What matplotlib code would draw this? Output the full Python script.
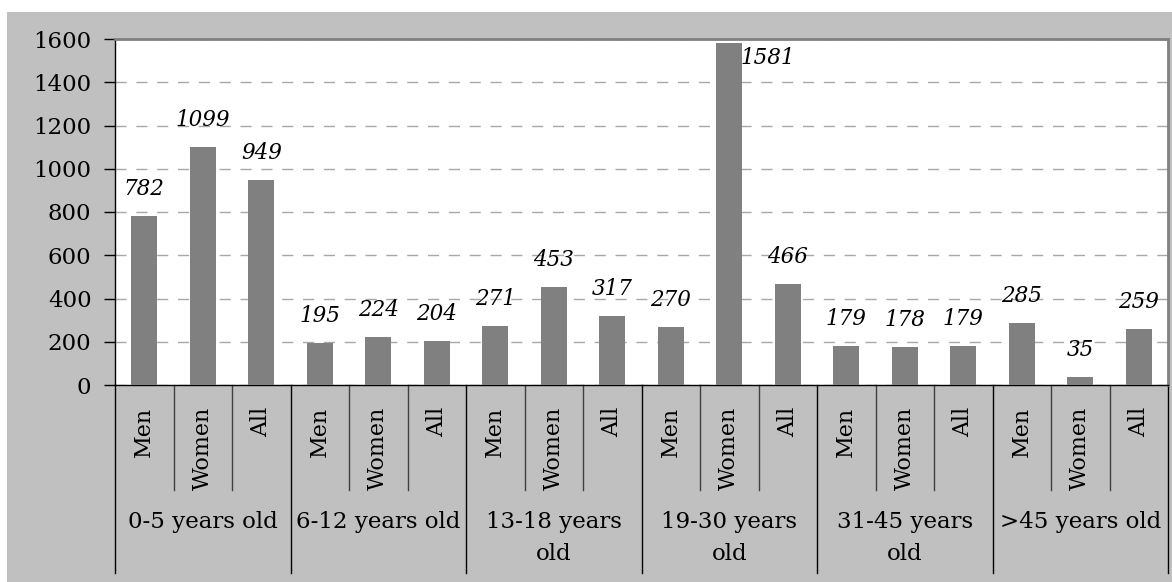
import matplotlib.pyplot as plt
from matplotlib.patches import Rectangle
from matplotlib.transforms import blended_transform_factory

plt.rcParams['font.family'] = ['DejaVu Serif']

groups = ['0-5 years old', '6-12 years old', '13-18 years\nold',
          '19-30 years\nold', '31-45 years\nold', '>45 years old']
subgroups = ['Men', 'Women', 'All']
men = [782, 195, 271, 270, 179, 285]
women = [1099, 224, 453, 1581, 178, 35]
both = [949, 204, 317, 466, 179, 259]

values = []
for m, w, a in zip(men, women, both):
    values += [m, w, a]
x = list(range(len(values)))

fig = plt.figure(figsize=(11.72, 5.82), dpi=100)
fig.patch.set_facecolor('white')
fig.patches.append(Rectangle((7 / 1172, 0), 1, 570 / 582, transform=fig.transFigure,
                             facecolor='#c0c0c0', edgecolor='none', zorder=-10))

ax = fig.add_axes([115 / 1172, 197 / 582, 1053 / 1172, 346 / 582])
ax.set_facecolor('white')
ax.bar(x, values, width=0.45, color='#808080', zorder=3)
ax.set_xlim(-0.5, len(values) - 0.5)
ax.set_ylim(0, 1600)
ax.set_yticks(range(0, 1601, 200))
ax.yaxis.grid(True, linestyle=(0, (8, 7)), color='#a8a8a8', linewidth=1)
ax.tick_params(axis='y', labelsize=16.5, length=8, pad=9, width=1)
ax.set_xticks([])

for s in ['left', 'bottom']:
    ax.spines[s].set_color('black')
    ax.spines[s].set_linewidth(1)
for s in ['top', 'right']:
    ax.spines[s].set_color('#808080')
    ax.spines[s].set_linewidth(2)

# value labels
for xi, v in zip(x, values):
    if v > 1500:
        ax.annotate(str(v), (xi, v), xytext=(38, -15), textcoords='offset pixels',
                    ha='center', va='center', fontsize=15.5, style='italic')
    else:
        ax.annotate(str(v), (xi, v), xytext=(0, 27), textcoords='offset pixels',
                    ha='center', va='center', fontsize=15.5, style='italic')

# two-level category axis
tr = blended_transform_factory(ax.transData, ax.transAxes)
for i in range(len(values) + 1):
    outer = i % 3 == 0
    ax.plot([i - 0.5, i - 0.5], [0, -0.543 if outer else -0.303], transform=tr,
            color='black' if outer else '#404040', linewidth=1, clip_on=False)
for xi in x:
    ax.text(xi, -0.064, subgroups[xi % 3], transform=tr, rotation=90,
            ha='center', va='top', fontsize=16)
for gi, g in enumerate(groups):
    ax.text(gi * 3 + 1, -0.365, g, transform=tr, ha='center', va='top',
            fontsize=16.5, linespacing=1.6)

fig.savefig('out.png', dpi=100)
